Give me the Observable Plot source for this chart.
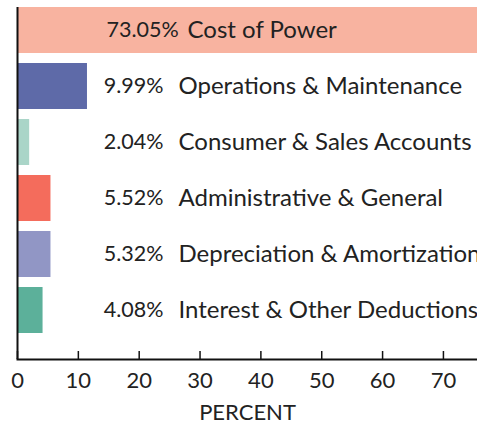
<!DOCTYPE html>
<html><head><meta charset="utf-8">
<script src="https://cdn.jsdelivr.net/npm/d3@7"></script>
<script src="https://cdn.jsdelivr.net/npm/@observablehq/plot@0.6"></script>
<style>body{margin:0;background:#fff;}</style>
</head><body><div id="chart"></div>
<script>
const categories = ["Cost of Power", "Operations & Maintenance", "Consumer & Sales Accounts", "Administrative & General", "Depreciation & Amortization", "Interest & Other Deductions"];
const percents = [73.05, 9.99, 2.04, 5.52, 5.32, 4.08];
const barLengths = [75.6, 11.5, 2.0, 5.5, 5.5, 4.2];
const colors = ["#f8b3a0", "#5e6aa8", "#aad5c8", "#f46c5c", "#9196c5", "#5cb09a"];
const xTicks = [0, 10, 20, 30, 40, 50, 60, 70];

const data = categories.map((c, i) => ({category: c, pct: percents[i], len: barLengths[i], color: colors[i]}));
const font = "Lato, 'Open Sans', sans-serif";
const fmt = d => d.pct.toFixed(2) + "%";
const first = data.slice(0, 1), rest = data.slice(1);

const plot = Plot.plot({
  width: 477, height: 424,
  marginLeft: 17, marginRight: 0, marginTop: 7, marginBottom: 65,
  style: {fontFamily: font, fontSize: "22px", color: "#222", background: "white"},
  x: {domain: [0, 75.6]},
  y: {domain: categories, paddingInner: 0.176, paddingOuter: 0.192, align: 0, axis: null},
  marks: [
    Plot.barX(data, {x: "len", y: "category", fill: "color"}),
    Plot.text(first, {y: "category", text: fmt, frameAnchor: "left", dx: 89, textAnchor: "start", fontSize: 21.5, fill: "#222"}),
    Plot.text(first, {y: "category", text: "category", frameAnchor: "left", dx: 170, textAnchor: "start", fontSize: 24, fill: "#222"}),
    Plot.text(rest, {y: "category", text: fmt, frameAnchor: "left", dx: 146, textAnchor: "end", fontSize: 21.5, fill: "#222"}),
    Plot.text(rest, {y: "category", text: "category", frameAnchor: "left", dx: 161, textAnchor: "start", fontSize: 24, fill: "#222"}),
    Plot.ruleX([0], {stroke: "#111", strokeWidth: 2}),
    Plot.frame({anchor: "bottom", stroke: "#111", strokeWidth: 2}),
    Plot.axisX(xTicks, {tickSize: 8, dy: -8, fill: "none", stroke: "#111", strokeWidth: 1.5, label: null}),
    Plot.axisX(xTicks, {tickSize: 0, tickPadding: 13, fontSize: 22, fill: "#222", label: "PERCENT", labelAnchor: "center", labelArrow: "none", labelOffset: 60})
  ]
});
document.getElementById("chart").appendChild(plot);
</script>
</body></html>
